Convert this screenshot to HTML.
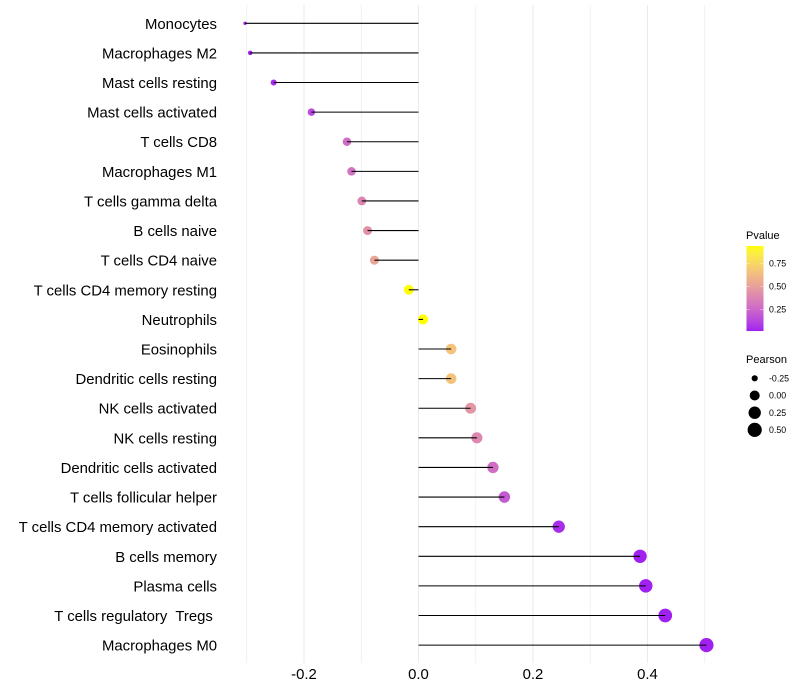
<!DOCTYPE html>
<html>
<head>
<meta charset="utf-8">
<style>
html,body{margin:0;padding:0;background:#fff;}
svg{display:block;}
text{font-family:"Liberation Sans",sans-serif;white-space:pre;}
</style>
</head>
<body>
<svg id="chart" xmlns="http://www.w3.org/2000/svg" width="800" height="700" viewBox="0 0 800 700">
  <defs>
    <linearGradient id="pgrad" x1="0" y1="1" x2="0" y2="0"></linearGradient>
  </defs>
  <rect x="0" y="0" width="800" height="700" fill="#ffffff"/>
  <g id="grid"></g>
  <g id="lines"></g>
  <g id="points"></g>
  <g id="ylabels"></g>
  <g id="xlabels"></g>
  <g id="legend-p"></g>
  <g id="legend-s"></g>
</svg>
<script>
var categories = ["Monocytes","Macrophages M2","Mast cells resting","Mast cells activated","T cells CD8","Macrophages M1","T cells gamma delta","B cells naive","T cells CD4 naive","T cells CD4 memory resting","Neutrophils","Eosinophils","Dendritic cells resting","NK cells activated","NK cells resting","Dendritic cells activated","T cells follicular helper","T cells CD4 memory activated","B cells memory","Plasma cells","T cells regulatory  Tregs ","Macrophages M0"];
var pearson = [-0.303,-0.294,-0.253,-0.187,-0.125,-0.117,-0.099,-0.089,-0.077,-0.017,0.008,0.057,0.057,0.091,0.102,0.13,0.15,0.245,0.387,0.397,0.431,0.503];
var pvalue = [0.016,0.02,0.05,0.14,0.28,0.3,0.38,0.44,0.52,0.94,0.94,0.66,0.66,0.46,0.4,0.28,0.2,0.05,0.018,0.018,0.016,0.016];
var xTicks = [-0.2,0,0.2,0.4];
var xMinor = [-0.3,-0.1,0.1,0.3,0.5];
var pvalueTicks = [0.25,0.5,0.75];
var pearsonLegend = [-0.25,0,0.25,0.5];
var pvalueRange = [0.016,0.94];
var pearsonRange = [-0.303,0.503];

var NS = "http://www.w3.org/2000/svg";
function xScale(v){ return 418.5 + v * 572.5; }
function yScale(i){ return 23.3 + i * 29.61; }
function rScale(v){
  var t = (v - pearsonRange[0]) / (pearsonRange[1] - pearsonRange[0]);
  return 1.7 + 5.4 * Math.sqrt(Math.max(0, t));
}
function pBarY(p){ return 309.5 - (p - 0.25) * 92; }

function rgb2lab(c){
  var f = c.map(function(v){ v/=255; return v>0.04045?Math.pow((v+0.055)/1.055,2.4):v/12.92; });
  var X=(f[0]*0.4124+f[1]*0.3576+f[2]*0.1805)/0.95047, Y=f[0]*0.2126+f[1]*0.7152+f[2]*0.0722, Z=(f[0]*0.0193+f[1]*0.1192+f[2]*0.9505)/1.08883;
  function g(t){ return t>0.008856?Math.cbrt(t):7.787*t+16/116; }
  return [116*g(Y)-16, 500*(g(X)-g(Y)), 200*(g(Y)-g(Z))];
}
function lab2rgb(l){
  var y=(l[0]+16)/116, x=l[1]/500+y, z=y-l[2]/200;
  function h(t){ return t*t*t>0.008856?t*t*t:(t-16/116)/7.787; }
  var X=h(x)*0.95047,Y=h(y),Z=h(z)*1.08883;
  var r=X*3.2406-Y*1.5372-Z*0.4986, g=-X*0.9689+Y*1.8758+Z*0.0415, b=X*0.0557-Y*0.2040+Z*1.0570;
  return [r,g,b].map(function(v){ v=v>0.0031308?1.055*Math.pow(v,1/2.4)-0.055:12.92*v; return Math.round(Math.min(1,Math.max(0,v))*255); });
}
var labLow = rgb2lab([160,32,240]), labHigh = rgb2lab([255,255,0]);
function pColor(p){
  var t = Math.min(1, Math.max(0, (p - pvalueRange[0]) / (pvalueRange[1] - pvalueRange[0])));
  var c = lab2rgb([0,1,2].map(function(i){ return labLow[i] + (labHigh[i]-labLow[i])*t; }));
  return "rgb(" + c.join(",") + ")";
}
function make(tag, parentId, attrs){
  var el = document.createElementNS(NS, tag);
  for (var k in attrs) el.setAttribute(k, attrs[k]);
  document.getElementById(parentId).appendChild(el);
  return el;
}
function slug(s){ return s.trim().toLowerCase().replace(/[^a-z0-9]+/g, "-"); }

xMinor.forEach(function(v){
  var el = make("line", "grid", {x1:xScale(v), x2:xScale(v), y1:5, y2:663, stroke:"#efefef", "stroke-width":0.8});
  
  
});
xTicks.forEach(function(v){
  var el = make("line", "grid", {x1:xScale(v), x2:xScale(v), y1:5, y2:663, stroke:"#ebebeb", "stroke-width":1.07});
  
  
  var t = make("text", "xlabels", {x:xScale(v), y:679, "text-anchor":"middle", "font-size":"14.9px", fill:"#000"});
  t.textContent = v.toFixed(1);
  
  
});

categories.forEach(function(name, i){
  var y = yScale(i);
  var v = pearson[i];
  var c = make("circle", "points", {cx:xScale(v), cy:y, r:rScale(v), fill:pColor(pvalue[i])});
  
  
  var l = make("line", "points", {x1:xScale(0), x2:xScale(v), y1:y, y2:y, stroke:"#000", "stroke-width":1.07});
  
  
  var t = make("text", "ylabels", {x:217, y:y+5.5, "text-anchor":"end", "font-size":"14.9px", fill:"#000"});
  t.textContent = name;
  
  
});

var grad = document.getElementById("pgrad");
for (var s = 0; s <= 20; s++) {
  var stop = document.createElementNS(NS, "stop");
  stop.setAttribute("offset", (s*5) + "%");
  stop.setAttribute("stop-color", pColor(pvalueRange[0] + (pvalueRange[1]-pvalueRange[0]) * s / 20));
  grad.appendChild(stop);
}
var pTitle = make("text", "legend-p", {x:746, y:239, "font-size":"11px", fill:"#000"});
pTitle.textContent = "Pvalue";


var bar = make("rect", "legend-p", {x:746.5, y:pBarY(pvalueRange[1]), width:17, height:pBarY(pvalueRange[0])-pBarY(pvalueRange[1]), fill:"url(#pgrad)"});


pvalueTicks.forEach(function(p){
  var y = pBarY(p);
  var a = make("line", "legend-p", {x1:746.5, x2:750, y1:y, y2:y, stroke:"#fff", "stroke-opacity":0.6, "stroke-width":0.6});
  
  
  var b = make("line", "legend-p", {x1:760, x2:763.5, y1:y, y2:y, stroke:"#fff", "stroke-opacity":0.6, "stroke-width":0.6});
  
  
  var t = make("text", "legend-p", {x:769, y:y+3.2, "font-size":"8.8px", fill:"#000"});
  t.textContent = p.toFixed(2);
  
  
});

var sTitle = make("text", "legend-s", {x:746, y:363, "font-size":"11px", fill:"#000"});
sTitle.textContent = "Pearson";


pearsonLegend.forEach(function(v, i){
  var y = 378.3 + i * 17.2;
  var c = make("circle", "legend-s", {cx:754.7, cy:y, r:rScale(v), fill:"#000"});
  
  
  var t = make("text", "legend-s", {x:769, y:y+3.2, "font-size":"8.8px", fill:"#000"});
  t.textContent = v.toFixed(2);
  
  
});
</script>
</body>
</html>
